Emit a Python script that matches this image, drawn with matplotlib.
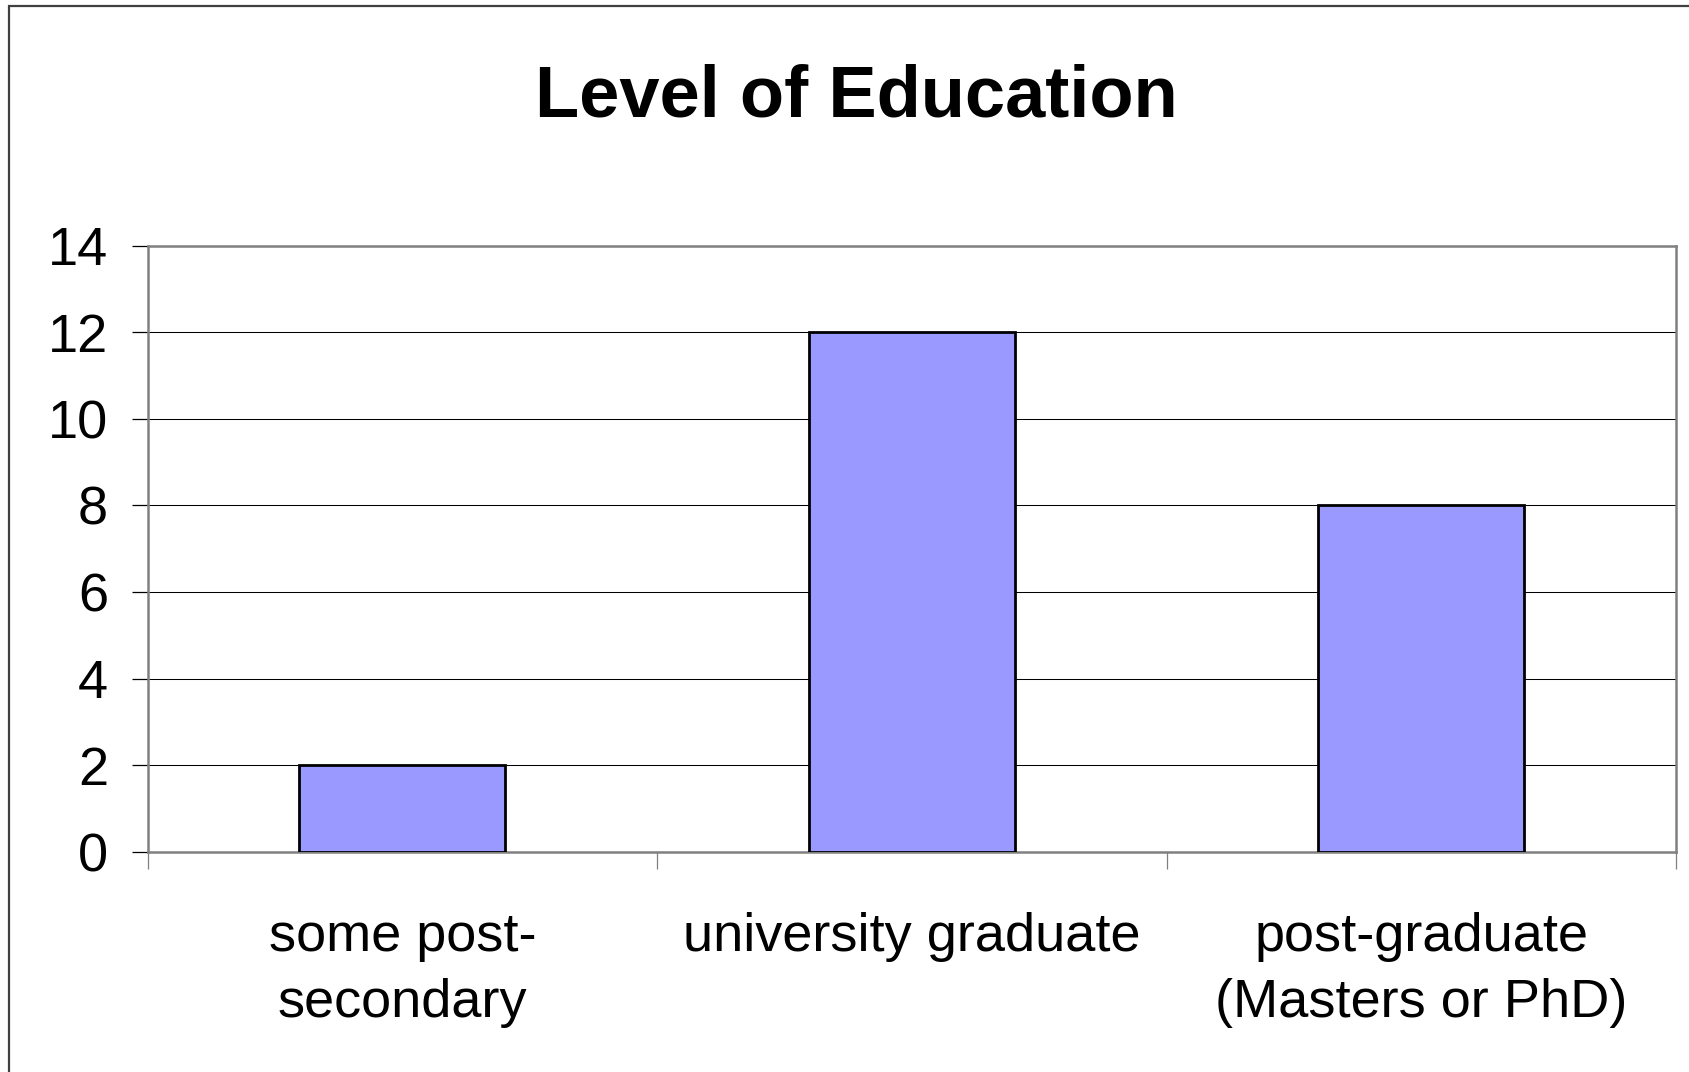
import matplotlib
matplotlib.use("Agg")
import matplotlib.pyplot as plt
from matplotlib.patches import Rectangle

plt.rcParams["font.family"] = ["Liberation Sans", "DejaVu Sans"]

# data
categories = ["some post-\nsecondary", "university graduate", "post-graduate\n(Masters or PhD)"]
counts = [2, 12, 8]
y_ticks = [0, 2, 4, 6, 8, 10, 12, 14]

W, H = 1689, 1072
fig = plt.figure(figsize=(W / 100, H / 100), dpi=100)

# chart-area border (only left and top edges fall inside the picture)
fig.add_artist(Rectangle((9 / W, -0.5), 2.0, 1.5 - 6 / H,
                         transform=fig.transFigure, fill=False,
                         edgecolor="#404040", linewidth=1.6))

ax = fig.add_axes([147.6 / W, 1 - 852 / H, (1676 - 147.6) / W, (852 - 245.6) / H])

x = list(range(len(categories)))
ax.bar(x, counts, width=0.404, color="#9999FF", edgecolor="black",
       linewidth=2.0, zorder=3)

ax.set_xlim(-0.5, len(categories) - 0.5)
ax.set_ylim(0, 14)
ax.set_yticks(y_ticks)
ax.yaxis.grid(True, color="black", linewidth=0.75)
ax.set_axisbelow(True)

for s in ax.spines.values():
    s.set_color("#808080")
    s.set_linewidth(1.8)

ax.tick_params(axis="y", direction="out", length=11.5, width=0.9,
               color="black", pad=17, labelsize=39)
ax.set_xticks(x)
ax.set_xticklabels(categories, fontsize=39, linespacing=1.43)
ax.tick_params(axis="x", which="major", length=0, pad=43)
ax.set_xticks([i - 0.5 for i in range(len(categories) + 1)], minor=True)
ax.tick_params(axis="x", which="minor", direction="out", length=12.5,
               width=0.9, color="#808080")

fig.text(856 / W, 1 - 116.3 / H, "Level of Education", ha="center",
         va="baseline", fontsize=52, fontweight="bold")

fig.savefig("out.png", dpi=100)
